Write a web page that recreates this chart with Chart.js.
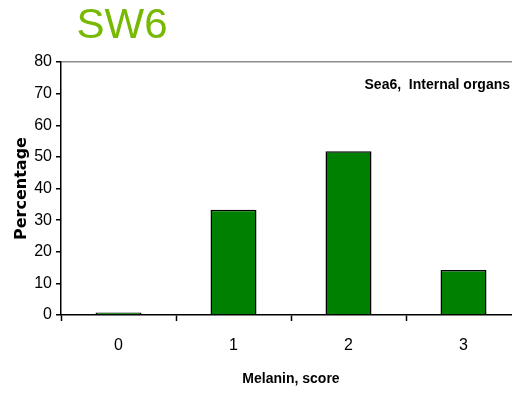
<!DOCTYPE html>
<html>
<head>
<meta charset="utf-8">
<script src="https://cdn.jsdelivr.net/npm/chart.js@4"></script>
<style>
  html, body { margin: 0; padding: 0; background: #fff; overflow: hidden; }
  #wrap { position: relative; width: 522px; height: 394px; }
</style>
</head>
<body>
<div id="wrap"><canvas id="melaninChart" width="522" height="394"></canvas></div>
<script>
const categories = ["0", "1", "2", "3"];
const percentages = [0.8, 33.3, 51.8, 14.2];
const yTicks = [0, 10, 20, 30, 40, 50, 60, 70, 80];

const sans = "'Liberation Sans', Arial, sans-serif";

// extra labels drawn straight on the canvas: big green heading + in-plot note
const labelsPlugin = {
  id: "labels",
  afterDraw(chart) {
    const c = chart.ctx;
    c.save();
    c.fillStyle = "#76b900";
    c.font = "42px " + sans;
    c.textAlign = "center";
    c.textBaseline = "alphabetic";
    c.fillText("SW6", 122, 38);
    c.fillStyle = "#000";
    c.font = "bold 14px " + sans;
    c.textAlign = "right";
    c.fillText("Sea6,  Internal organs", 510, 89);
    c.restore();
  },
};

const ctx = document.getElementById("melaninChart").getContext("2d");
const melaninChart = new Chart(ctx, {
  type: "bar",
  data: {
    labels: categories,
    datasets: [
      {
        data: percentages,
        backgroundColor: "#008000",
        borderColor: "#000",
        borderWidth: 1.5,
        borderSkipped: "bottom",
        categoryPercentage: 1,
        barPercentage: 0.4,
      },
    ],
  },
  options: {
    responsive: false,
    animation: false,
    layout: { padding: { top: 62, right: 1, left: 0, bottom: 0 } },
    plugins: {
      legend: { display: false },
      tooltip: { enabled: false },
    },
    scales: {
      x: {
        grid: {
          color: "rgba(0,0,0,0)",
          drawOnChartArea: false,
          tickColor: "#000",
          tickLength: 6,
          tickWidth: 1.5,
        },
        border: { color: "#000", width: 1.5 },
        ticks: { color: "#000", font: { family: sans, size: 16 }, padding: 15 },
        title: {
          display: true,
          text: "Melanin, score",
          color: "#000",
          font: { family: sans, size: 14, weight: "bold" },
          padding: { top: 0, bottom: 6 },
        },
        afterFit(scale) { scale.height = 79; },
      },
      y: {
        min: 0,
        max: 80,
        afterBuildTicks(scale) { scale.ticks = yTicks.map(v => ({ value: v })); },
        grid: {
          color: (c) => (c.tick && c.tick.value === 80 ? "#8c8c8c" : "rgba(0,0,0,0)"),
          lineWidth: 1.5,
          tickColor: "#000",
          tickLength: 5,
          tickWidth: 1.5,
        },
        border: { color: "#000", width: 1.5 },
        ticks: { color: "#000", font: { family: sans, size: 16 }, padding: 4 },
        title: {
          display: true,
          text: "Percentage",
          color: "#000",
          font: { family: "'DejaVu Sans', sans-serif", size: 16, weight: "bold" },
          padding: { top: 12, bottom: 0 },
        },
        afterFit(scale) { scale.width = 61; },
      },
    },
  },
  plugins: [labelsPlugin],
});
</script>
</body>
</html>
